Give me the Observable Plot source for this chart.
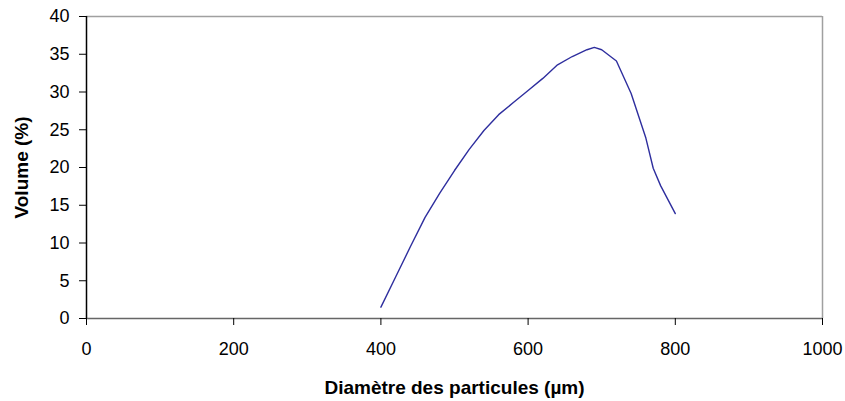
<!DOCTYPE html>
<html>
<head>
<meta charset="utf-8">
<script src="https://cdn.jsdelivr.net/npm/d3@7"></script>
<script src="https://cdn.jsdelivr.net/npm/@observablehq/plot@0.6"></script>
<style>
  html, body { margin: 0; padding: 0; background: #fff; }
  #chart svg { display: block; overflow: visible; }
</style>
</head>
<body>
<div id="chart"></div>
<script>
const diameters = [400, 420, 440, 460, 480, 500, 520, 540, 560, 580, 600, 620, 640, 660, 680, 690, 700, 720, 740, 760, 770, 780, 800];
const volumes   = [1.5, 5.5, 9.5, 13.4, 16.6, 19.6, 22.4, 24.9, 27.0, 28.6, 30.2, 31.8, 33.6, 34.7, 35.6, 35.9, 35.6, 34.1, 29.8, 23.9, 19.9, 17.6, 13.9];
const xTicks = [0, 200, 400, 600, 800, 1000];
const yTicks = [0, 5, 10, 15, 20, 25, 30, 35, 40];

const data = diameters.map((d, i) => ({d, v: volumes[i]}));

const chart = Plot.plot({
  width: 845,
  height: 401,
  marginLeft: 86,
  marginRight: 23,
  marginTop: 16,
  marginBottom: 83,
  style: {fontFamily: "'Liberation Sans', Arial, sans-serif", fontSize: "18px", color: "#000", background: "#fff", overflow: "visible"},
  x: {domain: [0, 1000]},
  y: {domain: [0, 40]},
  marks: [
    Plot.ruleY([40], {stroke: "#a0a0a0", strokeWidth: 1.5}),
    Plot.ruleX([1000], {stroke: "#a0a0a0", strokeWidth: 1.5}),
    Plot.ruleY([0], {stroke: "#666", strokeWidth: 1.5}),
    Plot.ruleX([0], {stroke: "#000", strokeWidth: 1.5}),
    Plot.axisX({ticks: xTicks, tickFormat: d => String(d), tickSize: 7, tickPadding: 17, fontSize: 18, stroke: "#000",
      label: "Diamètre des particules (µm)", labelAnchor: "center", labelArrow: "none", labelOffset: 75}),
    Plot.axisY({ticks: yTicks, tickFormat: d => String(d), tickSize: 7, tickPadding: 10, fontSize: 18, stroke: "#000",
      label: "Volume (%)", labelAnchor: "center", labelArrow: "none", labelOffset: 72}),
    Plot.line(data, {x: "d", y: "v", stroke: "#2e2e9e", strokeWidth: 1.4, curve: "linear"})
  ]
});
d3.select(chart).selectAll("g[aria-label='x-axis label'] text, g[aria-label='y-axis label'] text")
  .style("font-weight", "bold").style("font-size", "19px");
document.getElementById("chart").appendChild(chart);
</script>
</body>
</html>
